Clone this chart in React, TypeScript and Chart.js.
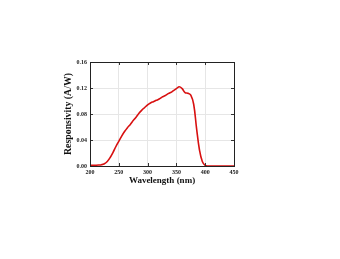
import React, { useEffect, useRef } from "react";
import { Chart, registerables } from "chart.js";

Chart.register(...registerables);

const wavelengths = [
  200, 205, 210, 215, 220, 225, 230, 235, 240, 245, 250, 255, 260, 265, 270, 275, 280, 285, 290, 295,
  300, 305, 310, 315, 320, 325, 330, 335, 340, 345, 350, 355, 360, 365, 370, 375, 380, 385, 390, 395,
  400, 405, 410, 415, 420, 425, 430, 435, 440, 445, 450,
];
const responsivity = [
  0.001, 0.001, 0.0012, 0.0015, 0.002, 0.0035, 0.007, 0.013, 0.021, 0.03, 0.038, 0.046, 0.053, 0.059,
  0.064, 0.07, 0.075, 0.081, 0.086, 0.09, 0.094, 0.097, 0.099, 0.101, 0.103, 0.106, 0.108, 0.111,
  0.113, 0.116, 0.119, 0.122, 0.119, 0.113, 0.112, 0.109, 0.095, 0.058, 0.025, 0.007, 0.001, 0, 0, 0,
  0, 0, 0, 0, 0, 0, 0,
];
const xTicks = [200, 250, 300, 350, 400, 450];
const yTicks = [0, 0.04, 0.08, 0.12, 0.16];

const FONT = "'Liberation Serif', 'Times New Roman', serif";

const innerTicks = {
  id: "innerTicks",
  afterDatasetsDraw(chart: any) {
    const { ctx, chartArea, scales } = chart;
    const { left, right, top, bottom } = chartArea;
    ctx.save();
    ctx.strokeStyle = "#333";
    ctx.lineWidth = 1;
    ctx.beginPath();
    const L = 3;
    for (const v of xTicks) {
      const x = Math.round(scales.x.getPixelForValue(v)) + 0.5;
      ctx.moveTo(x, bottom);
      ctx.lineTo(x, bottom - L);
      ctx.moveTo(x, top);
      ctx.lineTo(x, top + L);
    }
    for (const v of yTicks) {
      const y = Math.round(scales.y.getPixelForValue(v)) + 0.5;
      ctx.moveTo(left, y);
      ctx.lineTo(left + L, y);
      ctx.moveTo(right, y);
      ctx.lineTo(right - L, y);
    }
    ctx.stroke();
    ctx.strokeStyle = "#222";
    ctx.strokeRect(left + 0.5, top + 0.5, right - left, bottom - top);
    ctx.restore();
  },
};

export default function App() {
  const ref = useRef<HTMLCanvasElement>(null);
  useEffect(() => {
    if (!ref.current) return;
    const chart = new Chart(ref.current, {
      type: "line",
      data: {
        datasets: [
          {
            data: wavelengths.map((w, i) => ({ x: w, y: responsivity[i] })),
            borderColor: "#d81010",
            borderWidth: 1.6,
            pointRadius: 0,
            tension: 0.4,
            fill: false,
          },
        ],
      },
      options: {
        animation: false,
        responsive: false,
        maintainAspectRatio: false,
        layout: { padding: { left: 63, right: 106, top: 62, bottom: 73 } },
        plugins: { legend: { display: false }, tooltip: { enabled: false } },
        scales: {
          x: {
            type: "linear",
            min: 200,
            max: 450,
            afterFit: (s: any) => {
              s.height = 20;
            },
            afterBuildTicks: (s: any) => {
              s.ticks = xTicks.map((v) => ({ value: v }));
            },
            grid: { color: "#e6e6e6", drawTicks: false },
            border: { display: false },
            ticks: {
              padding: 3,
              color: "#222",
              font: { family: FONT, size: 6, weight: "bold" },
              maxRotation: 0,
            },
            title: {
              display: true,
              text: "Wavelength (nm)",
              color: "#111",
              padding: { top: 0, bottom: 0 },
              font: { family: FONT, size: 9, weight: "bold" },
            },
          },
          y: {
            type: "linear",
            min: 0,
            max: 0.16,
            afterFit: (s: any) => {
              s.width = 27;
            },
            afterBuildTicks: (s: any) => {
              s.ticks = yTicks.map((v) => ({ value: v }));
            },
            grid: { color: "#e6e6e6", drawTicks: false },
            border: { display: false },
            ticks: {
              padding: 3,
              color: "#222",
              font: { family: FONT, size: 6, weight: "bold" },
              callback: (v: any) => Number(v).toFixed(2),
            },
            title: {
              display: true,
              text: "Responsivity (A/W)",
              color: "#111",
              padding: { top: 0, bottom: 0 },
              font: { family: FONT, size: 9.8, weight: "bold" },
            },
          },
        },
      },
      plugins: [innerTicks],
    });
    return () => chart.destroy();
  }, []);
  return (
    <div style={{ position: "absolute", left: 0, top: 0, width: 340, height: 259, background: "#fff" }}>
      <canvas ref={ref} width={340} height={259} style={{ width: 340, height: 259 }} />
    </div>
  );
}
